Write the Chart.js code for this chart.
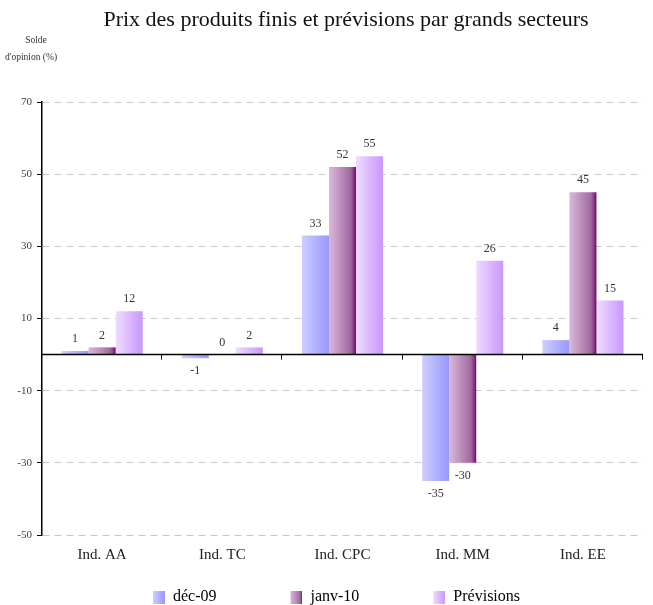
<!DOCTYPE html>
<html>
<head>
<meta charset="utf-8">
<script src="https://cdn.jsdelivr.net/npm/chart.js@4.4.0/dist/chart.umd.min.js"></script>
<style>
  html, body { margin: 0; padding: 0; background: #ffffff; }
  #wrap { width: 653px; height: 605px; position: relative; }
</style>
</head>
<body>
<div id="wrap"><canvas id="c" width="653" height="605"></canvas></div>
<script>
// ---- Data ----
const categories = ['Ind. AA', 'Ind. TC', 'Ind. CPC', 'Ind. MM', 'Ind. EE'];
const seriesNames = ['déc-09', 'janv-10', 'Prévisions'];
const dec09 = [1, -1, 33, -35, 4];
const janv10 = [2, 0, 52, -30, 45];
const previsions = [12, 2, 55, 26, 15];
const yTickValues = [-50, -30, -10, 10, 30, 50, 70];
const chartTitle = 'Prix des produits finis et prévisions par grands secteurs';
const yTitleLines = ['Solde', "d'opinion (%)"];

// ---- Styles ----
const FONT = "'Liberation Serif', 'Times New Roman', serif";
const gradientStops = [
  [[0, '#cfcfff'], [1, '#9797fb']],
  [[0, '#dbb8db'], [0.8, '#a06aa0'], [0.93, '#85307f'], [1, '#6e006e']],
  [[0, '#eedcff'], [1, '#c996fb']]
];
const flatColors = ['#b0b0ff', '#a870a8', '#dcb8ff'];
const SWATCH_W = 58; // transparent lead-in + 12px square

function makeGradient(ctx, x0, x1, stops) {
  const g = ctx.createLinearGradient(x0, 0, x1, 0);
  stops.forEach(s => g.addColorStop(s[0], s[1]));
  return g;
}

// legend swatches (transparent lead-in + gradient square)
const swatches = gradientStops.map(stops => {
  const cv = document.createElement('canvas');
  cv.width = SWATCH_W; cv.height = 13;
  const c = cv.getContext('2d');
  c.fillStyle = makeGradient(c, SWATCH_W - 12, SWATCH_W, stops);
  c.fillRect(SWATCH_W - 12, 0, 12, 13);
  return cv;
});

const gradientBars = {
  id: 'gradientBars',
  beforeDatasetsDraw(chart) {
    const ctx = chart.ctx;
    chart.data.datasets.forEach((ds, di) => {
      const meta = chart.getDatasetMeta(di);
      meta.data.forEach(el => {
        const p = el.getProps(['x', 'width'], true);
        const g = makeGradient(ctx, p.x - p.width / 2, p.x + p.width / 2, gradientStops[di]);
        el.options = Object.assign({}, el.options, { backgroundColor: g });
      });
    });
  }
};

const zeroAxis = {
  id: 'zeroAxis',
  afterDatasetsDraw(chart) {
    const ctx = chart.ctx;
    const y = chart.scales.y.getPixelForValue(0);
    const area = chart.chartArea;
    ctx.save();
    ctx.strokeStyle = '#000';
    ctx.lineWidth = 1.5;
    ctx.beginPath();
    ctx.moveTo(area.left, y);
    ctx.lineTo(area.right, y);
    ctx.stroke();
    ctx.lineWidth = 1;
    const n = categories.length;
    const step = (area.right - area.left) / n;
    for (let i = 1; i <= n; i++) {
      const x = Math.round(area.left + i * step) - 0.5;
      ctx.beginPath();
      ctx.moveTo(x, y);
      ctx.lineTo(x, y + 5);
      ctx.stroke();
    }
    ctx.restore();
  }
};

const valueLabels = {
  id: 'valueLabels',
  afterDatasetsDraw(chart) {
    const ctx = chart.ctx;
    ctx.save();
    ctx.font = '12px ' + FONT;
    ctx.fillStyle = '#333';
    ctx.textAlign = 'center';
    ctx.textBaseline = 'middle';
    chart.data.datasets.forEach((ds, di) => {
      const meta = chart.getDatasetMeta(di);
      meta.data.forEach((el, i) => {
        const v = ds.data[i];
        const p = el.getProps(['x', 'y'], true);
        const ty = v >= 0 ? p.y - 12 : p.y + 13;
        ctx.fillText(String(v), p.x, ty);
      });
    });
    ctx.restore();
  }
};

const headerTexts = {
  id: 'headerTexts',
  afterDraw(chart) {
    const ctx = chart.ctx;
    ctx.save();
    ctx.fillStyle = '#111';
    ctx.textAlign = 'center';
    ctx.textBaseline = 'middle';
    ctx.font = '22px ' + FONT;
    ctx.fillText(chartTitle, 346, 20);
    ctx.fillStyle = '#333';
    ctx.font = '9.5px ' + FONT;
    ctx.fillText(yTitleLines[0], 36, 40);
    ctx.fillText(yTitleLines[1], 31, 57);
    ctx.restore();
  }
};

new Chart(document.getElementById('c'), {
  type: 'bar',
  data: {
    labels: categories,
    datasets: [
      { label: seriesNames[0], data: dec09, backgroundColor: flatColors[0] },
      { label: seriesNames[1], data: janv10, backgroundColor: flatColors[1] },
      { label: seriesNames[2], data: previsions, backgroundColor: flatColors[2] }
    ]
  },
  options: {
    responsive: false,
    animation: false,
    events: [],
    devicePixelRatio: 1,
    layout: { padding: { top: 102, right: 10, bottom: -10, left: -16 } },
    datasets: { bar: { categoryPercentage: 0.675, barPercentage: 1.0, borderWidth: 0 } },
    scales: {
      x: {
        position: 'bottom',
        grid: { display: false, drawTicks: false },
        border: { display: false },
        ticks: { font: { family: FONT, size: 15 }, color: '#222', padding: 11, maxRotation: 0 },
        afterFit(s) { s.height = 26; }
      },
      y: {
        position: 'left',
        min: -50, max: 70,
        afterBuildTicks(s) { s.ticks = yTickValues.map(v => ({ value: v })); },
        afterFit(s) { s.width = 58; },
        grid: { color: '#c8c8c8', lineWidth: 1, drawTicks: true, tickLength: 5, tickColor: '#000', tickWidth: 1, tickBorderDash: [] },
        border: { display: true, color: '#000', width: 1.5, dash: [7, 5] },
        ticks: { font: { family: FONT, size: 11 }, color: '#404040', padding: 5 }
      }
    },
    plugins: {
      title: { display: false },
      tooltip: { enabled: false },
      legend: {
        display: true,
        position: 'bottom',
        labels: {
          usePointStyle: true,
          pointStyleWidth: SWATCH_W,
          boxHeight: 13,
          padding: 28,
          color: '#222',
          font: { family: FONT, size: 16 },
          generateLabels(chart) {
            return chart.data.datasets.map((ds, i) => ({
              text: ds.label,
              pointStyle: swatches[i],
              fillStyle: flatColors[i],
              strokeStyle: 'rgba(0,0,0,0)',
              lineWidth: 0,
              hidden: false,
              datasetIndex: i
            }));
          }
        }
      }
    }
  },
  plugins: [gradientBars, zeroAxis, valueLabels, headerTexts]
});
</script>
</body>
</html>
